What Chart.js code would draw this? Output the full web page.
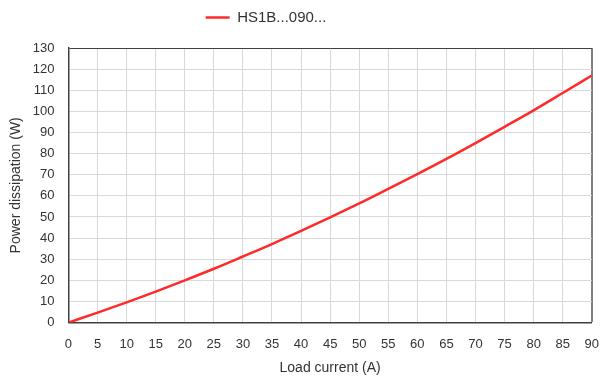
<!DOCTYPE html>
<html>
<head>
<meta charset="utf-8">
<script src="https://cdn.jsdelivr.net/npm/chart.js@4/dist/chart.umd.min.js"></script>
<style>
  html, body { margin: 0; padding: 0; background: #fff; }
  #chart_container { width: 601px; height: 378px; }
</style>
</head>
<body>
<div id="chart_container"><canvas id="loss_chart" width="601" height="378"></canvas></div>
<script>
// load current (A) and the power dissipated at that current (W)
var load_current = [0, 5, 10, 15, 20, 25, 30, 35, 40, 45, 50, 55, 60, 65, 70, 75, 80, 85, 90];
var power_dissipation = [0, 4.7, 9.6, 14.7, 20.0, 25.5, 31.3, 37.2, 43.4, 49.8, 56.4, 63.3, 70.3, 77.5, 85.0, 92.7, 100.5, 108.7, 117.0];
var series_name = "HS1B...090...";

var font_name = "'Liberation Sans', Arial, sans-serif";
var text_color = "#333333";

var points = [];
for (var i = 0; i < load_current.length; i++) {
    points.push({ x: load_current[i], y: power_dissipation[i] });
}

// legend tweaks: extra space below it, and the entry sits a bit left of centre
var legend_spacing = {
    id: "legend_spacing",
    beforeInit: function(chart) {
        var original_fit = chart.legend.fit;
        chart.legend.fit = function() {
            original_fit.call(this);
            this.height += 13;
        };
    },
    afterLayout: function(chart) {
        chart.legend.right -= 68;
    }
};

var loss_chart = new Chart(document.getElementById("loss_chart"), {
    type: "line",
    data: {
        datasets: [{
            label: series_name,
            data: points,
            borderColor: "#ff2a2a",
            backgroundColor: "#ff2a2a",
            borderWidth: 2.5,
            pointRadius: 0,
            tension: 0.4,
            cubicInterpolationMode: "monotone"
        }]
    },
    options: {
        responsive: false,
        animation: false,
        layout: { padding: { left: 8, right: 9, top: 0, bottom: 1 } },
        plugins: {
            tooltip: { enabled: false },
            legend: {
                position: "top",
                labels: {
                    usePointStyle: true,
                    pointStyle: "line",
                    pointStyleWidth: 24,
                    boxWidth: 24,
                    color: text_color,
                    font: { family: font_name, size: 15 },
                    padding: 10
                }
            }
        },
        scales: {
            x: {
                type: "linear",
                min: 0,
                max: 90,
                ticks: {
                    stepSize: 2.5,
                    autoSkip: false,
                    maxRotation: 0,
                    color: text_color,
                    font: { family: font_name, size: 13 },
                    padding: 2,
                    callback: function(value) {
                        //only every second grid line gets a label
                        return value % 5 === 0 ? value : null;
                    }
                },
                grid: {
                    drawTicks: true,
                    tickLength: 12,
                    tickColor: "transparent",
                    color: function(ctx) {
                        return ctx.tick && ctx.tick.value === 90 ? "#808080" : "#d9d9d9";
                    },
                    lineWidth: function(ctx) {
                        return ctx.tick && ctx.tick.value === 90 ? 2 : 1;
                    }
                },
                border: { color: "#404040", width: 1.5 },
                title: {
                    display: true,
                    text: "Load current (A)",
                    color: text_color,
                    font: { family: font_name, size: 14 },
                    padding: { top: 6, bottom: 0 }
                }
            },
            y: {
                min: 0,
                max: 130,
                ticks: {
                    stepSize: 10,
                    color: text_color,
                    font: { family: font_name, size: 13 },
                    padding: 2
                },
                grid: {
                    drawTicks: true,
                    tickLength: 12,
                    tickColor: "transparent",
                    color: function(ctx) {
                        return ctx.tick && ctx.tick.value === 130 ? "#404040" : "#d9d9d9";
                    }
                },
                border: { color: "#404040", width: 1.5 },
                title: {
                    display: true,
                    text: "Power dissipation (W)",
                    color: text_color,
                    font: { family: font_name, size: 14 },
                    padding: { top: 0, bottom: 6 }
                }
            }
        }
    },
    plugins: [legend_spacing]
});
</script>
</body>
</html>
